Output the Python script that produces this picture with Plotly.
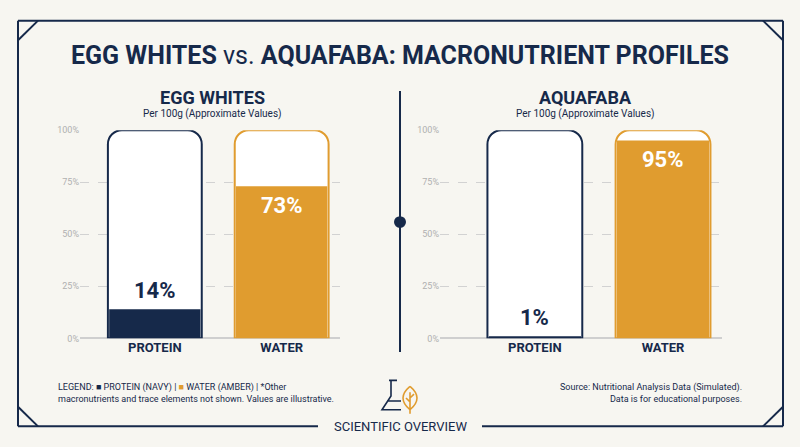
import plotly.graph_objects as go

categories = ["PROTEIN", "WATER"]
egg_values = [14, 73]
aqua_values = [1, 95]
tick_vals = [0, 25, 50, 75, 100]
tick_text = ["0%", "25%", "50%", "75%", "100%"]

NAVY = "#16294a"
AMBER = "#e09c2f"
BG = "#f7f6f1"
W, H = 800, 447
def px(x): return x / W
def py(y): return 1 - y / H

fig = go.Figure()
colors = [NAVY, AMBER]
for i, (vals, xa, ya) in enumerate([(egg_values, "x", "y"), (aqua_values, "x2", "y2")]):
    xs = list(range(len(categories)))
    fig.add_trace(go.Bar(x=xs, y=[100]*len(xs), width=0.74, xaxis=xa, yaxis=ya,
                         marker=dict(color="white", line=dict(color=colors, width=2), cornerradius=14),
                         hoverinfo="skip", showlegend=False))
    fig.add_trace(go.Bar(x=xs, y=vals, width=0.72, xaxis=xa, yaxis=ya,
                         marker=dict(color=colors, line=dict(width=0), cornerradius=10),
                         showlegend=False))
    for j, v in enumerate(vals):
        if v > 50:
            ty, col = v - 9, "white"
        else:
            ty, col = v + 9, NAVY
        fig.add_annotation(x=j, y=ty, xref=xa, yref=ya, text=f"<b>{v}%</b>", showarrow=False,
                           font=dict(size=22, color=col, family="Roboto"))

yax = dict(range=[0, 100], tickvals=tick_vals, ticktext=tick_text, showgrid=True,
           gridcolor="#d2d2d2", griddash="dash", gridwidth=1, zeroline=True, zerolinecolor="#cfcfcf",
           zerolinewidth=2, tickfont=dict(size=9, color="#b0b0b0", family="Roboto"),
           domain=[py(341), py(128)], fixedrange=True)
xax = dict(tickvals=[0, 1], ticktext=[f"<b>{c}</b>" for c in categories], showgrid=False,
           tickfont=dict(size=13, color=NAVY, family="Roboto"), ticks="", zeroline=False)
fig.update_layout(
    width=W, height=H, paper_bgcolor=BG, plot_bgcolor=BG, barmode="overlay",
    margin=dict(l=0, r=0, t=0, b=0),
    xaxis=dict(xax, domain=[px(80), px(340)], range=[-0.59, 1.46]),
    xaxis2=dict(xax, domain=[px(440), px(722)], range=[-0.74, 1.46]),
    yaxis=yax, yaxis2=dict(yax, anchor="x2"),
    font=dict(family="Roboto"),
)

shapes = []
L, R, T, B = 18, 783, 16, 431
ln = dict(color=NAVY, width=2)
for x0, y0, x1, y1 in [(L, T, R, T), (L, T, L, B), (R, T, R, B), (L, B, 318, B), (482, B, R, B),
                       (L, T + 20, L + 20, T), (R - 20, T, R, T + 20), (L, B - 20, L + 20, B), (R, B - 20, R - 20, B),
                       (400, 88, 400, 355)]:
    shapes.append(dict(type="line", xref="paper", yref="paper", x0=px(x0), y0=py(y0), x1=px(x1), y1=py(y1), line=ln))
shapes.append(dict(type="circle", xref="paper", yref="paper", x0=px(395), x1=px(405), y0=py(227), y1=py(217),
                   fillcolor=NAVY, line=dict(color=NAVY)))
# icon: flask + leaf
shapes.append(dict(type="path", xref="paper", yref="paper",
                   path=f"M {px(391)},{py(384)} L {px(391)},{py(400)} L {px(382)},{py(414)} L {px(401)},{py(414)} "
                        f"M {px(389)},{py(384)} L {px(397)},{py(384)} M {px(387)},{py(405)} L {px(401)},{py(405)}",
                   line=dict(color=NAVY, width=1.6)))
shapes.append(dict(type="path", xref="paper", yref="paper",
                   path=f"M {px(410)},{py(390)} Q {px(424)},{py(402)} {px(410)},{py(414)} Q {px(396)},{py(402)} {px(410)},{py(390)} "
                        f"M {px(410)},{py(396)} L {px(410)},{py(418)} M {px(410)},{py(402)} L {px(414)},{py(398)} "
                        f"M {px(410)},{py(406)} L {px(406)},{py(402)}",
                   line=dict(color=AMBER, width=1.6)))
fig.update_layout(shapes=shapes)

def ann(x, y, text, size, color=NAVY, xanchor="center", align="center"):
    fig.add_annotation(x=px(x), y=py(y), xref="paper", yref="paper", text=text, showarrow=False,
                       xanchor=xanchor, yanchor="middle", align=align,
                       font=dict(size=size, color=color, family="Roboto"))

ann(400, 52, "<b>EGG WHITES</b> vs. <b>AQUAFABA: MACRONUTRIENT PROFILES</b>", 25)
ann(212, 95, "<b>EGG WHITES</b>", 18)
ann(212, 112, "Per 100g (Approximate Values)", 10)
ann(585, 95, "<b>AQUAFABA</b>", 18)
ann(585, 112, "Per 100g (Approximate Values)", 10)
ann(56, 397, "LEGEND: <span style='color:%s'>■</span> PROTEIN (NAVY) | <span style='color:%s'>■</span> WATER (AMBER) | *Other<br>macronutrients and trace elements not shown. Values are illustrative." % (NAVY, AMBER),
    9, xanchor="left", align="left")
ann(744, 397, "Source: Nutritional Analysis Data (Simulated).<br>Data is for educational purposes.", 9,
    xanchor="right", align="right")
ann(400, 431, "SCIENTIFIC OVERVIEW", 13)

fig.write_html("out.html", config={"displayModeBar": False},
               post_script="document.body.style.margin='0';document.body.style.overflow='hidden';")
